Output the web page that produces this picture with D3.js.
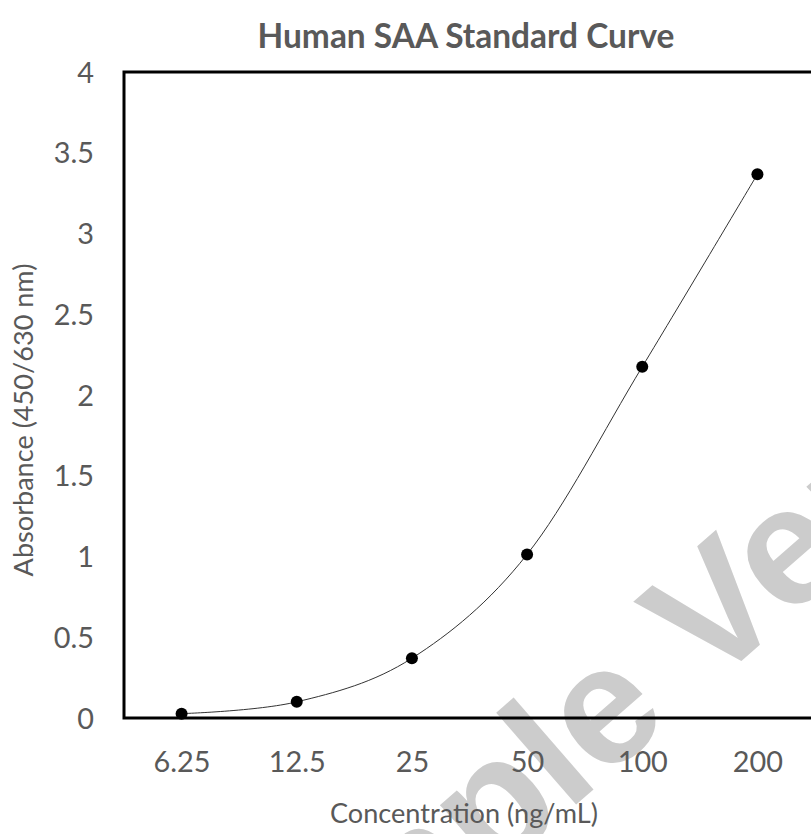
<!DOCTYPE html>
<html><head><meta charset="utf-8">
<script src="https://cdn.jsdelivr.net/npm/d3@7"></script>
<style>html,body{margin:0;padding:0;background:#fff;overflow:hidden}</style>
</head><body>
<svg id="c" width="811" height="834"></svg>
<script>
const concentrations = [6.25, 12.5, 25, 50, 100, 200];
const xTickLabels = ["6.25", "12.5", "25", "50", "100", "200"];
const absorbance = [0.027, 0.10, 0.37, 1.013, 2.175, 3.367];
const yTicks = [0, 0.5, 1, 1.5, 2, 2.5, 3, 3.5, 4];
const titleText = "Human SAA Standard Curve";
const xTitle = "Concentration (ng/mL)";
const yTitle = "Absorbance (450/630 nm)";
const watermark = "Sample Version";

const svg = d3.select("#c");
const FONT = "Lato, 'Open Sans', sans-serif";
const TXT = "#595959";
const m = {left: 124, top: 72, right: 815, bottom: 718};
const WMF = "'Liberation Sans', Arial, sans-serif";
const WMS = 168;

function fit(sel, target) {
  const w = sel.node().getComputedTextLength();
  const fs = parseFloat(sel.attr("font-size"));
  sel.attr("font-size", fs * target / w);
}
function measure(str) {
  const tmp = svg.append("text").attr("font-family", WMF).attr("font-weight", "bold")
    .attr("font-size", WMS).text(str);
  const w = tmp.node().getComputedTextLength();
  tmp.remove();
  return w;
}

// watermark (behind), anchored on the centre of the "e" in "Sample"
const wm = svg.append("text")
  .attr("transform", "translate(609,718) rotate(-41)")
  .attr("font-family", WMF)
  .attr("font-weight", "bold")
  .attr("font-size", WMS)
  .attr("fill", "#cccccc")
  .text(watermark);
wm.attr("x", -(measure("Sample") - measure("e") / 2)).attr("y", 0.26 * WMS);

const x = d3.scaleLog().base(2)
  .domain([concentrations[0] / Math.SQRT2, concentrations[concentrations.length-1] * Math.SQRT2])
  .range([m.left, m.right]);
const y = d3.scaleLinear().domain([0, 4]).range([m.bottom, m.top]);

// title
const t = svg.append("text").attr("x", 466).attr("y", 35)
  .attr("text-anchor", "middle").attr("dominant-baseline", "central")
  .attr("font-family", FONT).attr("font-weight", "bold").attr("font-size", 30)
  .attr("fill", TXT).text(titleText);
fit(t, 417);

// y axis labels
const yAxis = d3.axisLeft(y).tickValues(yTicks).tickSize(0).tickPadding(0)
  .tickFormat(d3.format("~g"));
const gy = svg.append("g").attr("transform", `translate(94,0)`).call(yAxis);
gy.select(".domain").remove();
gy.selectAll("text").attr("font-family", FONT).attr("font-size", 25).attr("fill", TXT)
  .attr("dy", "0.35em").attr("x", 0);

// x axis labels
const xAxis = d3.axisBottom(x).tickValues(concentrations).tickSize(0).tickPadding(0)
  .tickFormat((d, i) => xTickLabels[i]);
const gx = svg.append("g").attr("transform", `translate(0,762)`).call(xAxis);
gx.select(".domain").remove();
gx.selectAll("text").attr("font-family", FONT).attr("font-size", 25).attr("fill", TXT)
  .attr("dy", "0.35em").attr("y", 0);
(function(){
  const n = gx.selectAll("text").nodes()[0];
  const w = n.getComputedTextLength();
  const fs = 25 * 57 / w;
  gx.selectAll("text").attr("font-size", fs);
  gy.selectAll("text").attr("font-size", fs);
})();

// axis titles
const xt = svg.append("text").attr("x", 464).attr("y", 812)
  .attr("text-anchor", "middle").attr("dominant-baseline", "central")
  .attr("font-family", FONT).attr("font-size", 20).attr("fill", TXT).text(xTitle);
fit(xt, 268);
const yt = svg.append("text").attr("transform", "translate(22,420) rotate(-90)")
  .attr("text-anchor", "middle").attr("dominant-baseline", "central")
  .attr("font-family", FONT).attr("font-size", 20).attr("fill", TXT).text(yTitle);
fit(yt, 313);

// plot frame
svg.append("rect").attr("x", m.left).attr("y", m.top)
  .attr("width", m.right - m.left).attr("height", m.bottom - m.top)
  .attr("fill", "none").attr("stroke", "#000").attr("stroke-width", 3);

// curve
const data = concentrations.map((c, i) => ({c, v: absorbance[i]}));
const line = d3.line().x(d => x(d.c)).y(d => y(d.v)).curve(d3.curveCatmullRom.alpha(0));
svg.append("path").datum(data).attr("d", line)
  .attr("fill", "none").attr("stroke", "#333").attr("stroke-width", 1);

svg.selectAll("circle.pt").data(data).join("circle").attr("class", "pt")
  .attr("cx", d => x(d.c)).attr("cy", d => y(d.v)).attr("r", 6).attr("fill", "#000");
</script>
</body></html>
